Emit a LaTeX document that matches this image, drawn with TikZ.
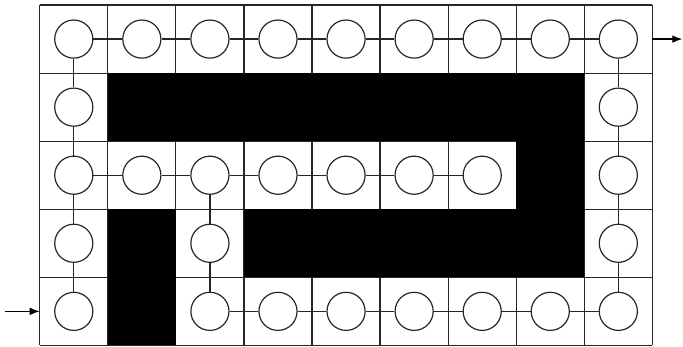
\documentclass[tikz,border=0pt]{standalone}
\usetikzlibrary{arrows.meta}

\begin{document}
\begin{tikzpicture}[
  cell/.style ={rectangle, minimum size=1cm, inner sep=0pt, outer sep=0pt},
  wall/.style ={cell, fill=black},
  rule/.style ={line width=0.5pt, black!85},
  spot/.style ={circle, draw=black!85, fill=white, line width=0.5pt, minimum size=0.56cm, inner sep=0pt},
  link/.style ={line width=0.5pt, black!85},
  arr/.style  ={-{Latex[length=4.2pt,width=3.2pt]}, line width=0.5pt},
]

% ── Frame (reference margins) ──
\useasboundingbox (-0.584,-0.015) rectangle (9.45,5.074);

% ── Cells: 5 rows x 9 columns, row 0 on top ──
\foreach \r in {0,...,4} {
  \foreach \c in {0,...,8} {
    \node[cell] (cell-\r-\c) at (\c+0.5, 4.5-\r) {};
  }
}
\draw[rule] (cell-4-0.south west) grid (cell-0-8.north east);

% ── Walls (black cells) ──
\foreach \r/\cols in {1/{1,...,7}, 2/{7}, 3/{1,3,4,5,6,7}, 4/{1}} {
  \foreach \c in \cols {
    \node[wall] (wall-\r-\c) at (cell-\r-\c) {};
  }
}

% ── Open cells: one circle each ──
\foreach \r/\cols in {0/{0,...,8}, 1/{0,8}, 2/{0,...,6,8}, 3/{0,2,8}, 4/{0,2,3,...,8}} {
  \foreach \c in \cols {
    \node[spot] (s-\r-\c) at (cell-\r-\c) {};
  }
}

% ── Horizontal links ──
\foreach \r/\cols in {0/{0,...,7}, 2/{0,...,5}, 4/{2,...,7}} {
  \foreach \c [evaluate=\c as \n using int(\c+1)] in \cols {
    \draw[link] (s-\r-\c) -- (s-\r-\n);
  }
}

% ── Vertical links ──
\foreach \c/\rows in {0/{0,...,3}, 2/{2,3}, 8/{0,...,3}} {
  \foreach \r [evaluate=\r as \n using int(\r+1)] in \rows {
    \draw[link] (s-\r-\c) -- (s-\n-\c);
  }
}

% ── Entry and exit ──
\coordinate (in)  at (-0.51, 0.5);
\coordinate (out) at (9.44, 4.5);
\draw[arr] (in) -- (cell-4-0.west);
\draw[arr] (cell-0-8.east) -- (out);

\end{tikzpicture}
\end{document}
